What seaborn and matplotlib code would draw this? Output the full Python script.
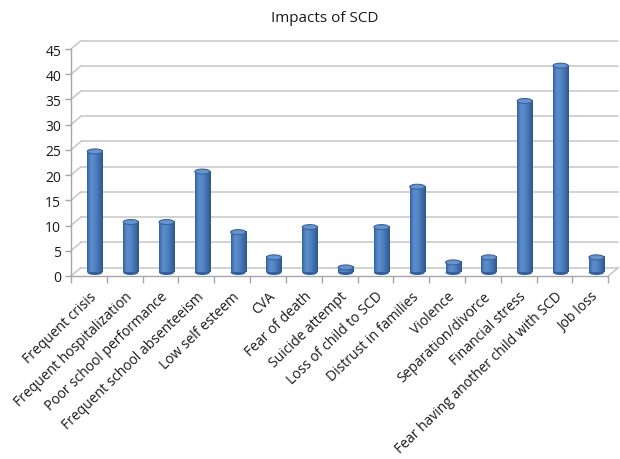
import numpy as np
import pandas as pd
import matplotlib
matplotlib.use("Agg")
import matplotlib.pyplot as plt
import seaborn as sns
from matplotlib.transforms import offset_copy, IdentityTransform, ScaledTranslation
from matplotlib.patches import Ellipse
from matplotlib.colors import LinearSegmentedColormap

categories = [
    "Frequent crisis", "Frequent hospitalization", "Poor school performance",
    "Frequent school absenteeism", "Low self esteem", "CVA", "Fear of death",
    "Suicide attempt", "Loss of child to SCD", "Distrust in families",
    "Violence", "Separation/divorce", "Financial stress",
    "Fear having another child with SCD", "Job loss",
]
counts = [24, 10, 10, 20, 8, 3, 9, 1, 9, 17, 2, 3, 34, 41, 3]
y_ticks = [0, 5, 10, 15, 20, 25, 30, 35, 40, 45]
title = "Impacts of SCD"

sns.set_theme(style="white")
plt.rcParams["font.family"] = ["Open Sans", "DejaVu Sans"]

W, H = 620, 460
fig = plt.figure(figsize=(W / 100, H / 100), dpi=100)
x_left, x_right, y_bot, y_top = 71, 608.3, 277, 50
ax = fig.add_axes([x_left / W, 1 - y_bot / H, (x_right - x_left) / W, (y_bot - y_top) / H])

df = pd.DataFrame({"impact": categories, "count": counts})
sns.barplot(data=df, x="impact", y="count", color="#4f81bd", width=0.42,
            saturation=1, ax=ax, zorder=3)
n = len(categories)
ax.set_xlim(-0.5, n - 0.5)
ax.set_ylim(0, 45)

# depth offsets (pixels) for the back wall and for the bars in mid-depth
wall_dx, wall_dy = 10, 8.5
bar_dx, bar_dy = 6, 3.5
trans_back = offset_copy(ax.transData, fig, x=wall_dx, y=wall_dy, units="dots")
trans_bar = offset_copy(ax.transData, fig, x=bar_dx, y=bar_dy, units="dots")

grid_col = "#c6c6c6"
for y in y_ticks:
    ax.plot([-0.5, n - 0.5], [y, y], transform=trans_back, color=grid_col,
            lw=1.1, clip_on=False, zorder=0)
    p = ax.transData.transform((-0.5, y))
    ax.add_line(plt.Line2D([p[0], p[0] + wall_dx], [p[1], p[1] + wall_dy],
                           transform=IdentityTransform(), color=grid_col, lw=1.1,
                           clip_on=False, zorder=0))
p = ax.transData.transform((n - 0.5, 0))
ax.add_line(plt.Line2D([p[0], p[0] + wall_dx], [p[1], p[1] + wall_dy],
                       transform=IdentityTransform(), color=grid_col, lw=1.1,
                       clip_on=False, zorder=0))

# cylinder shading for each bar
cyl = LinearSegmentedColormap.from_list(
    "cyl", ["#33609a", "#5788c8", "#5a8bcb", "#4b7cbc", "#3d6ba8", "#2e5688"])
grad = np.linspace(0, 1, 64).reshape(1, -1)
px_per_unit = ax.bbox.height / 45.0
cap_h = 5.0 / px_per_unit
for bar in list(ax.patches):
    x0, w, h = bar.get_x(), bar.get_width(), bar.get_height()
    bar.set_transform(trans_bar)
    bar.set_visible(False)
    base = Ellipse((x0 + w / 2, 0), w, cap_h, transform=trans_bar,
                   facecolor="#33609a", edgecolor="none", zorder=2, clip_on=False)
    ax.add_patch(base)
    ax.imshow(grad, extent=[x0, x0 + w, 0, h], aspect="auto", cmap=cyl,
              transform=trans_bar, zorder=3, clip_on=False, interpolation="bilinear")
    cap = Ellipse((x0 + w / 2, h), w, cap_h, transform=trans_bar,
                  facecolor="#6794d0", edgecolor="#3a6499", lw=0.8, zorder=4,
                  clip_on=False)
    ax.add_patch(cap)
ax.set_xlim(-0.5, n - 0.5)
ax.set_ylim(0, 45)

# axes styling
for side in ("top", "right"):
    ax.spines[side].set_visible(False)
for side in ("left", "bottom"):
    ax.spines[side].set_color("#a6a6a6")
    ax.spines[side].set_linewidth(1.0)
ax.set_yticks(y_ticks)
ax.set_yticklabels([str(v) for v in y_ticks], fontsize=10, color="#1a1a1a")
ax.tick_params(axis="y", length=4, color="#a6a6a6", width=1, pad=3, left=True)
ax.set_xticks(range(n))
ax.set_xticklabels(categories, rotation=44, ha="right", rotation_mode="anchor",
                   fontsize=10, color="#1a1a1a")
shift = ScaledTranslation(1 / 100, 0, fig.dpi_scale_trans)
for lab in ax.get_xticklabels():
    lab.set_transform(lab.get_transform() + shift)
ax.set_xticks(np.arange(-0.5, n, 1.0), minor=True)
ax.tick_params(axis="x", which="major", length=0, pad=9)
ax.tick_params(axis="x", which="minor", length=5, color="#a6a6a6", width=1,
               bottom=True)
ax.set_xlabel("")
ax.set_ylabel("")
ax.set_facecolor("none")
ax.grid(False)

fig.text(0.524, 1 - 18 / H, title, ha="center", va="center", fontsize=11,
         color="#1a1a1a")

fig.savefig("out.png", dpi=100, facecolor="white")
